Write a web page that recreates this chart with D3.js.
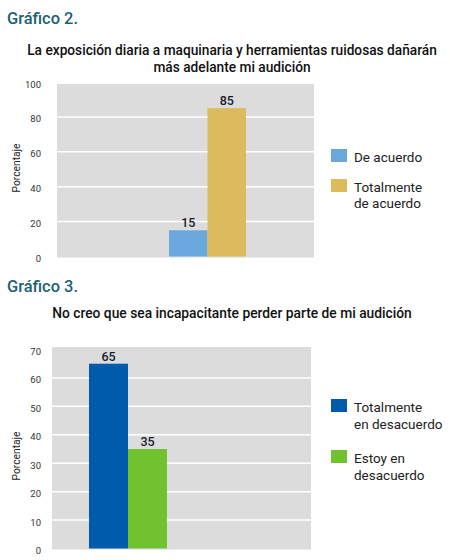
<!DOCTYPE html>
<html>
<head>
<meta charset="utf-8">
<script src="https://cdn.jsdelivr.net/npm/d3@7"></script>
<style>
  body { margin: 0; background: #fff; }
  svg { display: block; }
</style>
</head>
<body>
<svg id="chart"></svg>
<script>
// Gráfico 2
const g2Series = ["De acuerdo", "Totalmente de acuerdo"];
const g2Values = [15, 85];
const g2Ticks = [0, 20, 40, 60, 80, 100];
const g2Legend = [["De acuerdo"], ["Totalmente", "de acuerdo"]];
const g2Colors = ["#6aa7dc", "#dbbb5e"];

// Gráfico 3
const g3Series = ["Totalmente en desacuerdo", "Estoy en desacuerdo"];
const g3Values = [65, 35];
const g3Ticks = [0, 10, 20, 30, 40, 50, 60, 70];
const g3Legend = [["Totalmente", "en desacuerdo"], ["Estoy en", "desacuerdo"]];
const g3Colors = ["#005bac", "#70c22e"];

const width = 450, height = 560;
const font = "Roboto, 'Liberation Sans', sans-serif";

const svg = d3.select("#chart").attr("width", width).attr("height", height);

// scale a set of texts together so the widest line is maxW wide
function fitText(sel, maxW) {
	let widest = 0;
	sel.each(function () { widest = Math.max(widest, this.getComputedTextLength()); });
	if (widest > maxW) {
		sel.attr("font-size", parseFloat(sel.attr("font-size")) * maxW / widest);
	}
}

function drawChart(opts) {
	const g = svg.append("g");

	// heading
	g.append("text")
		.attr("x", 7)
		.attr("y", opts.headY)
		.attr("font-family", font)
		.attr("font-size", 17)
		.attr("font-weight", 500)
		.attr("fill", "#1d6070")
		.text(opts.heading)
		.call(fitText, 71);

	g.selectAll(".title")
		.data(opts.title)
		.enter()
		.append("text")
		.attr("class", "title")
		.attr("font-family", font)
		.attr("font-size", 14)
		.attr("font-weight", 500)
		.attr("fill", "#111")
		.attr("text-anchor", "middle")
		.attr("x", 232)
		.attr("y", (d, i) => opts.titleY + i * 17)
		.text(d => d)
		.call(fitText, opts.titleW);

	const y = d3.scaleLinear()
		.domain([0, d3.max(opts.ticks)])
		.range([opts.yBottom, opts.yTop]);

	const x = d3.scaleBand()
		.domain(opts.series)
		.range([opts.groupLeft, opts.groupRight]);

	// plot background
	g.append("rect")
		.attr("x", opts.plotLeft)
		.attr("y", opts.bgTop)
		.attr("width", opts.plotRight - opts.plotLeft)
		.attr("height", opts.yBottom - opts.bgTop + 1)
		.attr("fill", "#dcdcdd");

	g.selectAll(".grid")
		.data(opts.ticks.slice(1, -1))
		.enter()
		.append("line")
		.attr("class", "grid")
		.attr("x1", opts.plotLeft)
		.attr("x2", opts.plotRight)
		.attr("y1", d => y(d))
		.attr("y2", d => y(d))
		.attr("stroke", "#fff")
		.attr("stroke-width", 1.5);

	const axis = d3.axisLeft(y).tickValues(opts.ticks).tickSize(0).tickPadding(0);
	const ax = g.append("g")
		.attr("transform", "translate(41,2)")
		.call(axis);
	ax.select(".domain").remove();
	ax.selectAll("text")
		.attr("font-family", font)
		.attr("font-size", 9.5)
		.attr("fill", "#333");

	g.append("text")
		.attr("transform", `translate(20,${opts.ylabelY}) rotate(-90)`)
		.attr("text-anchor", "middle")
		.attr("font-family", font)
		.attr("font-size", 11)
		.attr("fill", "#222")
		.text("Porcentaje")
		.call(fitText, 49);

	// bars
	g.selectAll(".bar")
		.data(opts.values)
		.enter()
		.append("rect")
		.attr("class", "bar")
		.attr("x", (d, i) => x(opts.series[i]))
		.attr("width", x.bandwidth())
		.attr("y", d => y(d))
		.attr("height", d => opts.yBottom - y(d))
		.attr("fill", (d, i) => opts.colors[i]);

	g.selectAll(".val")
		.data(opts.values)
		.enter()
		.append("text")
		.attr("class", "val")
		.attr("x", (d, i) => x(opts.series[i]) + x.bandwidth() / 2)
		.attr("y", d => y(d) - 3)
		.attr("text-anchor", "middle")
		.attr("font-family", font)
		.attr("font-size", 12.5)
		.attr("font-weight", 500)
		.attr("fill", "#1a1a2a")
		.text(d => d);

	// legend
	const legend = g.selectAll(".legend")
		.data(opts.legend)
		.enter()
		.append("g")
		.attr("class", "legend")
		.attr("transform", (d, i) => `translate(331,${opts.legendY[i]})`);
	legend.append("rect")
		.attr("width", 16)
		.attr("height", 13)
		.attr("fill", (d, i) => opts.colors[i]);
	legend.selectAll("text")
		.data(d => d)
		.enter()
		.append("text")
		.attr("font-family", font)
		.attr("font-size", 13.5)
		.attr("fill", "#222")
		.attr("x", 23)
		.attr("y", (d, i) => 13 + i * opts.legendLine)
		.text(d => d);
}

drawChart({
	heading: "Gráfico 2.",
	headY: 24,
	title: ["La exposición diaria a maquinaria y herramientas ruidosas dañarán", "más adelante mi audición"],
	titleY: 55,
	titleW: 410,
	series: g2Series,
	values: g2Values,
	ticks: g2Ticks,
	legend: g2Legend,
	colors: g2Colors,
	plotLeft: 57, plotRight: 314,
	bgTop: 84, yTop: 82, yBottom: 256.5,
	groupLeft: 169, groupRight: 246,
	ylabelY: 168,
	legendY: [149, 179],
	legendLine: 15.5
});

drawChart({
	heading: "Gráfico 3.",
	headY: 292,
	title: ["No creo que sea incapacitante perder parte de mi audición"],
	titleY: 318,
	titleW: 360,
	series: g3Series,
	values: g3Values,
	ticks: g3Ticks,
	legend: g3Legend,
	colors: g3Colors,
	plotLeft: 52, plotRight: 311,
	bgTop: 347, yTop: 349.5, yBottom: 548.5,
	groupLeft: 89, groupRight: 167,
	ylabelY: 456,
	legendY: [399, 450],
	legendLine: 17
});
</script>
</body>
</html>
